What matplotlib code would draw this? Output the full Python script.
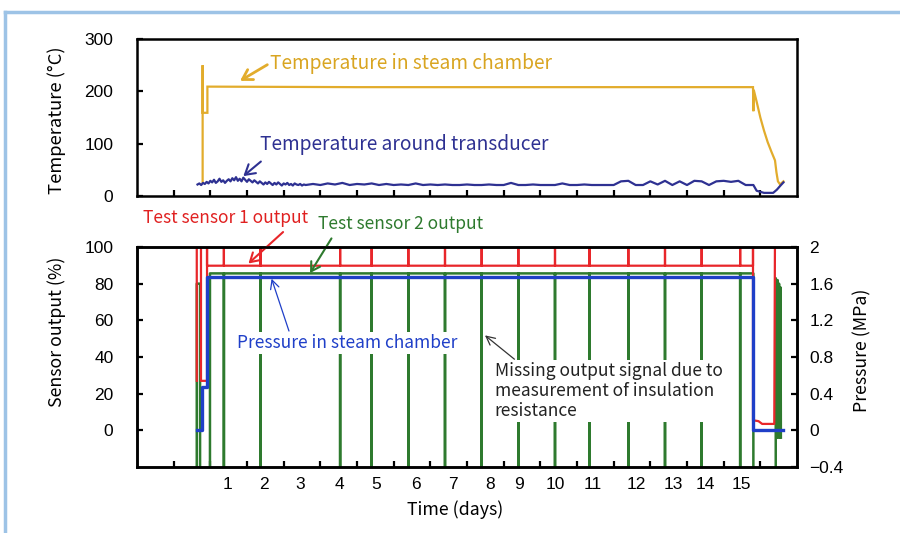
import matplotlib
matplotlib.use('Agg')
import matplotlib.pyplot as plt
import numpy as np
from matplotlib.lines import Line2D

W, H = 900, 533
TXT = 'Noto Sans CJK JP'
NUM = 'Liberation Sans'

# x axis is in "chart days": one tick per unit, labels sit on the daily checks
tick_pos = np.arange(1, 18)
day_labels = [str(d) for d in range(1, 16)]
day_label_pos = [2.46, 3.46, 4.46, 5.53, 6.53, 7.61, 8.61, 9.63, 10.43,
                 11.40, 12.44, 13.63, 14.62, 15.49, 16.49]

# times of insulation resistance measurement (output signal missing)
check_pos = [2.37, 3.37, 5.54, 6.40, 7.40, 8.40, 9.40, 10.40, 11.40,
             12.34, 13.40, 14.40, 15.40, 16.45]

# temperature in steam chamber (deg C)
steam_x = [1.79, 1.79, 1.79, 1.92, 1.92, 6.0, 12.0, 16.80, 16.81, 16.82,
           16.90, 17.00, 17.10, 17.20, 17.30, 17.40, 17.44, 17.48, 17.54, 17.63]
steam_y = [27, 250, 159, 159, 209, 208, 208, 208, 162, 203,
           180, 150, 125, 103, 85, 68, 45, 28, 22, 28]

# temperature around transducer (deg C)
trans_x1 = np.round(np.arange(60) * 0.05 + 1.65, 2)
trans_y1 = [22, 24, 21, 25, 23, 27, 24, 29, 26, 31,
            25, 28, 33, 27, 30, 25, 29, 32, 28, 34,
            30, 36, 29, 33, 28, 35, 31, 27, 32, 29,
            26, 30, 27, 24, 28, 25, 22, 26, 23, 27,
            24, 21, 25, 22, 26, 23, 20, 24, 22, 25,
            21, 23, 20, 24, 22, 21, 23, 20, 22, 21]
trans_x2 = np.round(np.arange(60) * 0.2 + 4.8, 2)
trans_y2 = [23, 21, 24, 22, 25, 21, 23, 22, 24, 21,
            23, 21, 22, 21, 24, 21, 22, 21, 22, 21,
            21, 22, 21, 21, 22, 21, 21, 25, 21, 21,
            22, 21, 21, 21, 24, 21, 21, 22, 21, 21,
            21, 21, 28, 29, 21, 21, 28, 22, 29, 21,
            28, 21, 29, 28, 21, 28, 29, 27, 29, 21]
trans_x3 = [16.81, 16.90, 17.10, 17.35, 17.45, 17.55, 17.63]
trans_y3 = [21, 10, 6, 6, 12, 20, 26]

# test sensor 1 output (%)
s1_level = 89.8
s1_start_x = [1.63, 1.63, 1.745, 1.745, 1.91, 1.91, 1.91]
s1_start_y = [27, 110, 110, 27, 27, 110, s1_level]
s1_end_x = [16.80, 16.80, 16.95, 17.05, 17.38, 17.40]
s1_end_y = [110, 5.5, 5.0, 3.5, 3.5, 110]

# test sensor 2 output (%)
s2_level = 85.6
s2_start_x = [1.63, 1.63, 1.72, 1.72, 1.99, 1.99]
s2_start_y = [-25, 80, 80, -25, -25, s2_level]
s2_end_x = [16.81, 16.81, 17.42, 17.42, 17.45, 17.47, 17.49, 17.51, 17.53, 17.55, 17.56]
s2_end_y = [s2_level, -25, -25, 83, -4, 82, -4, 80, -4, 78, -4]

# pressure in steam chamber (MPa)
pres_x = [1.63, 1.76, 1.76, 1.91, 1.91, 16.81, 16.81, 17.62]
pres_y = [0, 0, 0.47, 0.47, 1.67, 1.67, 0, 0]


def with_spikes(x0, x1, level, spikes, extreme):
    xs, ys = [x0], [level]
    for p in spikes:
        xs += [p, p, p]
        ys += [level, extreme, level]
    xs.append(x1)
    ys.append(level)
    return xs, ys


def fig_xy(px, py):
    return px / W, 1 - py / H


fig = plt.figure(figsize=(W / 100, H / 100), dpi=100)
ax_t = fig.add_axes([137 / W, 1 - 196 / H, 660 / W, 157 / H])
ax_b = fig.add_axes([137 / W, 1 - 467 / H, 660 / W, 220 / H])
ax_p = ax_b.twinx()

gold = '#E2AC2C'
navy = '#2E3192'
red = '#E8262A'
green = '#2E7A2E'
blue = '#1F3FC8'

# top panel
ax_t.plot(steam_x, steam_y, color=gold, lw=1.6, solid_joinstyle='miter')
ax_t.plot(list(trans_x1) + list(trans_x2) + trans_x3,
          trans_y1 + trans_y2 + trans_y3, color=navy, lw=1.6)
ax_t.set_xlim(0, 18)
ax_t.set_ylim(0, 300)
ax_t.set_xticks(tick_pos)
ax_t.set_xticklabels([])
ax_t.set_yticks([0, 100, 200, 300])

# bottom panel
gx, gy = with_spikes(1.99, 16.81, s2_level, check_pos, -25)
ax_b.plot(s2_start_x + gx + s2_end_x, s2_start_y + gy + s2_end_y, color=green, lw=1.8)
rx, ry = with_spikes(1.91, 16.80, s1_level, check_pos, 110)
ax_b.plot(s1_start_x + rx + s1_end_x, s1_start_y + ry + s1_end_y, color=red, lw=1.6)
ax_p.plot(pres_x, pres_y, color=blue, lw=2.4)

ax_b.set_xlim(0, 18)
ax_b.set_ylim(-20, 100)
ax_p.set_ylim(-0.4, 2)
ax_b.set_yticks([0, 20, 40, 60, 80, 100])
ax_p.set_yticks([-0.4, 0, 0.4, 0.8, 1.2, 1.6, 2.0])
ax_p.set_yticklabels(['\u22120.4', '0', '0.4', '0.8', '1.2', '1.6', '2'])
ax_b.set_xticks(tick_pos)
ax_b.set_xticklabels([])
ax_b.set_xticks(day_label_pos, minor=True)
ax_b.set_xticklabels(day_labels, minor=True)

for a in (ax_t, ax_b, ax_p):
    for s in a.spines.values():
        s.set_linewidth(1.8)
    a.tick_params(direction='in', length=4, width=1.6, labelsize=12.5)
    for lab in a.get_xticklabels(minor=True) + a.get_yticklabels():
        lab.set_family(NUM)
ax_t.tick_params(axis='y', pad=17)
ax_b.tick_params(axis='y', pad=17)
ax_p.tick_params(axis='y', pad=9)
ax_b.tick_params(axis='x', which='minor', length=0, pad=7, labelsize=12.5)

# annotations
kw = dict(fontsize=12.5, family=TXT, va='center', ha='left', annotation_clip=False)
kw_top = dict(kw, fontsize=13.8)
ax_t.annotate('Temperature in steam chamber', xy=(2.81, 220), xytext=(3.63, 254),
              color='#D9A521',
              arrowprops=dict(arrowstyle='->,head_length=0.5,head_width=0.3',
                              color=gold, lw=2, shrinkA=0, shrinkB=0,
                              relpos=(0, 0.5)), **kw_top)
ax_t.annotate('Temperature around transducer', xy=(2.90, 38), xytext=(3.35, 98),
              color=navy,
              arrowprops=dict(arrowstyle='->,head_length=0.5,head_width=0.3',
                              color=navy, lw=1.5, shrinkA=4, shrinkB=0,
                              relpos=(0.03, 0)), **kw_top)
ax_b.annotate('Test sensor 1 output', xy=(3.04, 91), xytext=(0.16, 115.6),
              color='#E02020',
              arrowprops=dict(arrowstyle='->,head_length=0.5,head_width=0.3',
                              color=red, lw=1.5, shrinkA=2, shrinkB=0,
                              relpos=(0.88, 0)), **kw)
ax_b.annotate('Test sensor 2 output', xy=(4.72, 85.8), xytext=(4.94, 112.4),
              color=green,
              arrowprops=dict(arrowstyle='->,head_length=0.5,head_width=0.3',
                              color=green, lw=1.5, shrinkA=2, shrinkB=0,
                              relpos=(0.1, 0)), **kw)
ax_b.annotate('Pressure in steam chamber', xy=(3.67, 82.7), xytext=(2.73, 47.6),
              color=blue, zorder=6,
              bbox=dict(boxstyle='square,pad=0.1', fc='white', ec='none'),
              arrowprops=dict(arrowstyle='->,head_length=0.5,head_width=0.25',
                              color=blue, lw=0.9, shrinkA=1, shrinkB=0,
                              relpos=(0.24, 1)), **kw)
ax_b.annotate('Missing output signal due to\nmeasurement of insulation\nresistance',
              xy=(9.49, 51.8), xytext=(9.76, 21.5), color='#222222', zorder=6,
              linespacing=1.15,
              bbox=dict(boxstyle='square,pad=0.1', fc='white', ec='none'),
              arrowprops=dict(arrowstyle='->,head_length=0.5,head_width=0.25',
                              color='#333333', lw=0.9, shrinkA=1, shrinkB=0,
                              relpos=(0.1, 1)), **kw)

# axis titles
fig.text(*fig_xy(57, 120), 'Temperature (\u00b0C)', rotation=90, ha='center', va='center',
         family=TXT, fontsize=13.2)
fig.text(*fig_xy(57, 332), 'Sensor output (%)', rotation=90, ha='center', va='center',
         family=TXT, fontsize=12.8)
fig.text(*fig_xy(862, 350), 'Pressure (MPa)', rotation=90, ha='center', va='center',
         family=TXT, fontsize=12.8)
fig.text(*fig_xy(455, 510), 'Time (days)', ha='center', va='center',
         family=TXT, fontsize=12.8)

# light blue frame (left and top edges)
frame = '#9DC3E6'
fig.add_artist(Line2D([5 / W, 5 / W], [0, 1 - 12 / H], transform=fig.transFigure,
                      color=frame, lw=2.5))
fig.add_artist(Line2D([5 / W, 1], [1 - 12 / H, 1 - 12 / H], transform=fig.transFigure,
                      color=frame, lw=2.5))

fig.savefig('out.png', dpi=100)
